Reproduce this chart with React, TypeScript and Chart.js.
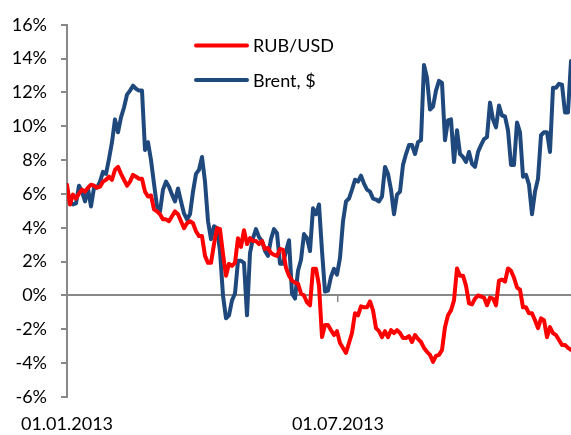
import { useEffect, useRef } from "react";
import { Chart, registerables } from "chart.js";

Chart.register(...registerables);

// Daily observations, index 0 = 01.01.2013 (values in %)
const RUB_USD = [
  6.55, 5.38, 5.96, 5.73, 6.02, 6.26, 6.14, 6.37, 6.55, 6.49,
  6.37, 6.43, 6.73, 6.84, 7.02, 6.84, 7.43, 7.6, 7.19, 6.84,
  6.49, 6.73, 7.13, 7.02, 6.9, 6.9, 6.14, 5.85, 5.91, 5.09,
  4.97, 4.8, 4.5, 4.5, 4.39, 4.68, 4.97, 4.8, 4.39, 3.98,
  4.27, 4.39, 4.27, 3.8, 3.51, 3.51, 2.34, 1.93, 1.93, 3.04,
  3.98, 3.92, 2.46, 1.17, 1.87, 1.75, 1.93, 3.39, 2.87, 3.86,
  3.04, 3.39, 3.22, 3.22, 3.04, 3.22, 2.75, 2.81, 2.51, 2.4,
  2.34, 2.75, 2.69, 1.64, 1.17, 0.88, 0.76, 0.7, 0.12, 0,
  -0.41, -0.58, 1.58, 1.58, 0.58, -2.46, -1.75, -1.75, -2.05, -2.34,
  -2.11, -2.81, -3.1, -3.39, -2.81, -2.22, -1.05, -1.17, -0.64, -0.7,
  -0.7, -0.35, -0.88, -1.93, -2.11, -2.46, -2.11, -2.46, -2.05, -2.22,
  -2.05, -2.22, -2.51, -2.51, -2.4, -2.75, -2.34, -2.57, -2.75, -3.1,
  -3.33, -3.51, -3.92, -3.57, -3.51, -3.22, -1.87, -1.17, -0.88, -0.29,
  1.6, 1.17, 1.17, 0.58, -0.47, -0.53, -0.18, 0, -0.06, -0.12,
  -0.58, -0.12, -0.18, -0.58, 0.88, 0.94, 0.82, 1.6, 1.46, 1.05,
  0.47, 0.35, -0.7, -0.7, -1.05, -1.05, -1.46, -1.93, -1.35, -1.46,
  -2.46, -1.87, -2.22, -2.34, -2.63, -2.92, -2.92, -3.1, -3.22,
];

const BRENT = [
  6.26, 5.56, 5.38, 5.44, 6.49, 6.14, 5.56, 6.32, 5.26, 6.37,
  6.37, 6.73, 7.31, 7.19, 8.07, 9.06, 10.41, 9.65, 10.53, 11.11,
  11.87, 12.11, 12.4, 12.22, 12.11, 12.11, 8.6, 9.06, 8.01, 6.61,
  5.26, 4.97, 6.26, 6.73, 6.43, 5.96, 5.56, 6.32, 5.56, 4.85,
  4.5, 4.8, 6.14, 7.19, 7.43, 8.19, 6.73, 4.39, 3.33, 4.09,
  3.98, 2.63, 0, -1.35, -1.17, -0.29, 0.12, 2.05, 2.05, 1.93,
  -1.17, 2.51, 3.39, 3.92, 3.45, 3.22, 2.63, 2.34, 3.33, 3.92,
  3.68, 1.87, 1.87, 2.63, 3.27, 0.12, -0.18, 1.46, 2.11, 3.63,
  3.39, 2.63, 5.15, 4.8, 5.38, 2.63, 0.23, 0.29, 1.11, 1.58,
  1.23, 2.22, 4.39, 5.56, 5.73, 6.26, 6.84, 6.73, 7.08, 6.61,
  6.26, 6.14, 5.73, 5.67, 5.56, 5.85, 7.6, 7.19, 6.26, 4.8,
  5.96, 6.14, 7.72, 8.36, 8.89, 8.89, 8.36, 9.06, 9.18, 13.63,
  12.87, 10.99, 11.17, 12.11, 12.69, 12.57, 9.18, 10.35, 10.41, 7.89,
  9.77, 8.36, 8.19, 7.89, 8.48, 7.78, 7.6, 8.48, 8.89, 9.24,
  9.36, 11.4, 10.41, 9.94, 11.23, 10.64, 10.58, 9.77, 7.72, 7.72,
  10.23, 9.65, 7.02, 7.13, 6.55, 4.8, 6.14, 6.9, 9.47, 9.65,
  9.65, 8.48, 12.28, 12.28, 12.51, 12.46, 10.82, 10.82, 13.86,
];

const SERIES_NAMES = ["RUB/USD", "Brent, $"];
const SERIES_COLORS = ["#FF0000", "#1F497D"];
const X_TICK_POS = [0, 90.3];
const X_TICK_LABELS = ["01.01.2013", "01.07.2013"];
const Y_MIN = -6;
const Y_MAX = 16;
const Y_STEP = 2;

const FONT = "Lato";
const AXIS_GREY = "#888888";

export default function App() {
  const ref = useRef<HTMLCanvasElement | null>(null);

  useEffect(() => {
    if (!ref.current) return;
    const labels = BRENT.map((_, i) => i);
    const lastIndex = labels.length - 1;

    const insideLegend = {
      id: "insideLegend",
      afterDraw(chart: any) {
        const ctx = chart.ctx;
        ctx.save();
        chart.data.datasets.forEach((ds: any, k: number) => {
          const y = 45.5 + k * 34.5;
          ctx.strokeStyle = ds.borderColor;
          ctx.lineWidth = 4;
          ctx.lineCap = "round";
          ctx.beginPath();
          ctx.moveTo(196, y);
          ctx.lineTo(247, y);
          ctx.stroke();
          ctx.fillStyle = "#000";
          ctx.font = `18px ${FONT}`;
          ctx.textBaseline = "middle";
          ctx.textAlign = "left";
          ctx.fillText(ds.label, 253, y + 1);
        });
        ctx.restore();
      },
    };

    const setTicks = (s: any) => {
      s.ticks = X_TICK_POS.map((v) => ({ value: v }));
    };

    const chart = new Chart(ref.current, {
      type: "line",
      data: {
        labels,
        datasets: [
          {
            label: SERIES_NAMES[0],
            data: RUB_USD,
            borderColor: SERIES_COLORS[0],
            backgroundColor: SERIES_COLORS[0],
            borderWidth: 4,
            pointRadius: 0,
            tension: 0,
            xAxisID: "x",
            yAxisID: "y",
          },
          {
            label: SERIES_NAMES[1],
            data: BRENT,
            borderColor: SERIES_COLORS[1],
            backgroundColor: SERIES_COLORS[1],
            borderWidth: 4,
            pointRadius: 0,
            tension: 0,
            xAxisID: "x",
            yAxisID: "y",
          },
        ],
      },
      options: {
        animation: false,
        responsive: true,
        maintainAspectRatio: false,
        layout: { padding: { top: 21, right: 0, left: 0, bottom: 0 } },
        plugins: {
          legend: { display: false },
          tooltip: { enabled: false },
        },
        elements: {
          line: { borderJoinStyle: "round", borderCapStyle: "round" },
        },
        scales: {
          x: {
            type: "linear",
            min: 0,
            max: lastIndex,
            position: "bottom",
            afterBuildTicks: setTicks,
            afterFit: (s: any) => {
              s.height = 38;
            },
            grid: { display: false },
            border: { display: false },
            ticks: {
              padding: 8,
              color: "#000",
              font: { family: FONT, size: 18 },
              maxRotation: 0,
              autoSkip: false,
              callback: (_v: any, i: number) => X_TICK_LABELS[i],
            },
          },
          x0: {
            type: "linear",
            min: 0,
            max: lastIndex,
            position: { y: 0 },
            afterBuildTicks: setTicks,
            grid: {
              display: true,
              drawOnChartArea: false,
              drawTicks: true,
              tickLength: 6,
              color: AXIS_GREY,
              lineWidth: 1.5,
            },
            border: { display: true, color: AXIS_GREY, width: 2 },
            ticks: { display: false },
          },
          y: {
            min: Y_MIN,
            max: Y_MAX,
            afterFit: (s: any) => {
              s.width = 67;
            },
            ticks: {
              stepSize: Y_STEP,
              padding: 14,
              color: "#000",
              font: { family: FONT, size: 18 },
              callback: (v: any) => `${v}%`,
            },
            grid: {
              drawOnChartArea: false,
              drawTicks: true,
              tickLength: 6,
              color: AXIS_GREY,
              lineWidth: 2,
            },
            border: { display: true, color: AXIS_GREY, width: 2 },
          },
        },
      } as any,
      plugins: [insideLegend],
    });

    return () => chart.destroy();
  }, []);

  return (
    <div style={{ position: "absolute", left: 0, top: 0, width: 571, height: 435 }}>
      <canvas ref={ref} />
    </div>
  );
}
